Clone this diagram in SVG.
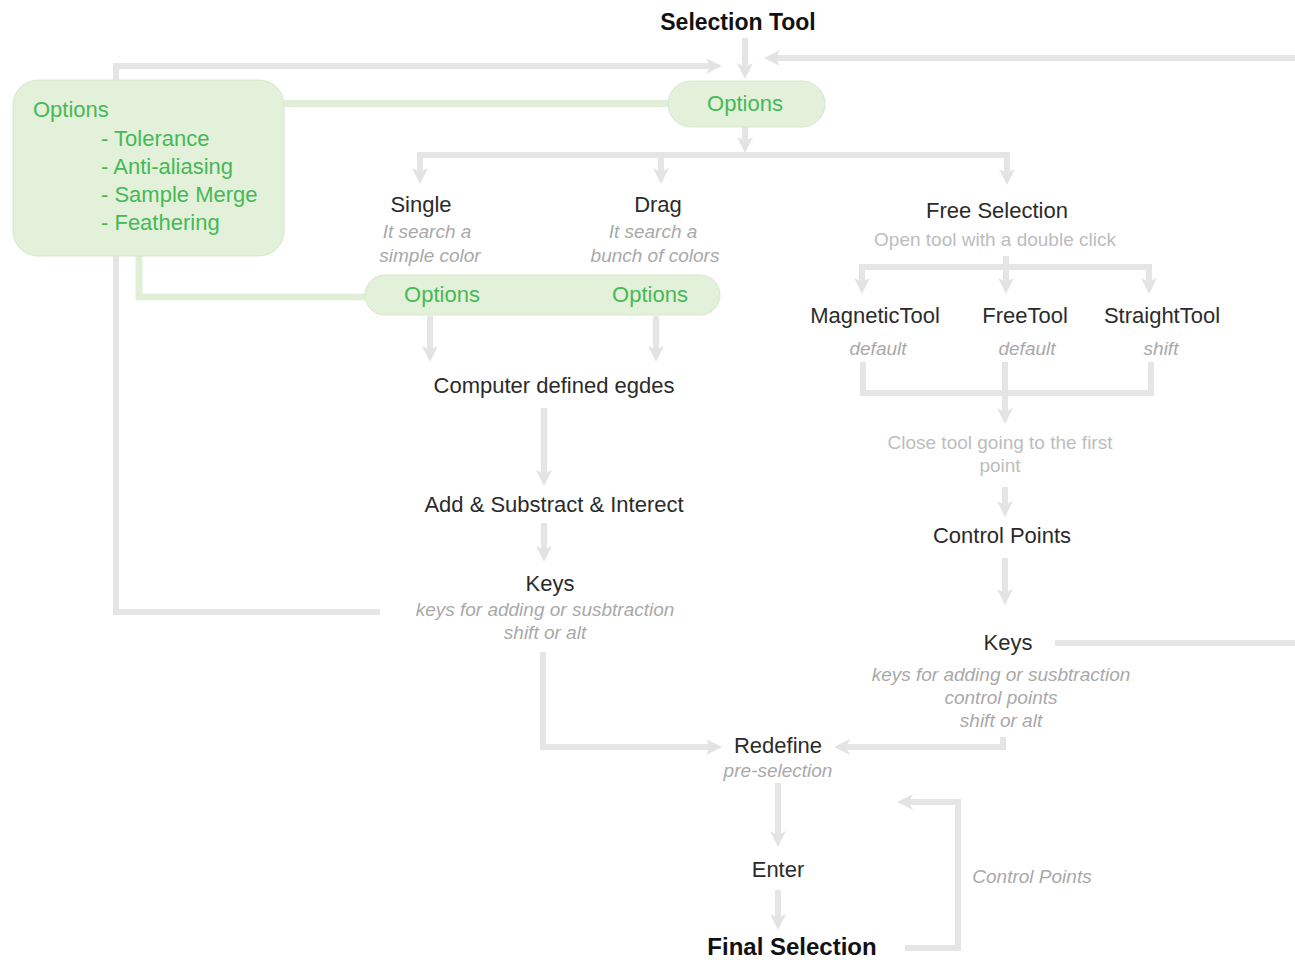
<svg xmlns="http://www.w3.org/2000/svg" width="1295" height="963" viewBox="0 0 1295 963">
<defs>
<marker id="ah" viewBox="0 0 16 16" refX="4" refY="8" markerWidth="16" markerHeight="16" markerUnits="userSpaceOnUse" orient="auto">
<path d="M0,0 L16,8 L0,16 L4,8 Z" fill="#e3e3e3"/>
</marker>
<style>
text{font-family:"Liberation Sans",Arial,sans-serif}
.c{fill:none;stroke:#e5e5e5;stroke-width:6}
.a{marker-end:url(#ah)}
.g{fill:none;stroke:#e2efd8;stroke-width:7}
.box{fill:#e3f0da;stroke:#d6e8ca;stroke-width:1}
.gt{fill:#46b956;font-size:22px}
.t{fill:#2b2b2b;font-size:22px;text-anchor:middle}
.b{fill:#111;font-size:23px;font-weight:bold;text-anchor:middle}
.i{fill:#a9a9a9;font-size:19px;font-style:italic;text-anchor:middle}
.s{fill:#bdbdbd;font-size:19px;text-anchor:middle}
</style>
</defs>
<g id="connectors">
<path class="c a" d="M745,38 V67"/>
<path class="c a" d="M380,612 H116 V66 H710"/>
<path class="c a" d="M1295,58 H776"/>
<path class="c" d="M1055,643 H1295"/>
<path class="c a" d="M745,127 V141"/>
<path class="c" d="M417,155 H1010"/>
<path class="c a" d="M420,155 V172"/>
<path class="c a" d="M661,155 V172"/>
<path class="c a" d="M1007,155 V173"/>
<path class="c" d="M1006,256 V267"/>
<path class="c" d="M859,267 H1152"/>
<path class="c a" d="M862,267 V282"/>
<path class="c a" d="M1006,267 V282"/>
<path class="c a" d="M1149,267 V282"/>
<path class="c" d="M863,362 V393 H1151 V362"/>
<path class="c" d="M1005,362 V393"/>
<path class="c a" d="M1005,393 V412"/>
<path class="c a" d="M1005,487 V505"/>
<path class="c a" d="M1005,558 V593"/>
<path class="c a" d="M1003,737 V747 H846"/>
<path class="c a" d="M430,316 V350"/>
<path class="c a" d="M656,316 V350"/>
<path class="c a" d="M544,408 V474"/>
<path class="c a" d="M544,523 V550"/>
<path class="c a" d="M543,652 V747 H710"/>
<path class="c a" d="M778,783 V835"/>
<path class="c a" d="M778,890 V918"/>
<path class="c a" d="M905,948 H958 V802 H909"/>
<path class="g" d="M283,103.5 H670"/>
<path class="g" d="M139,255 V297 H368"/>
</g>
<g id="selection-tool"><text class="b" x="738" y="30">Selection Tool</text></g>
<g id="options-box">
<rect class="box" x="13" y="80" width="271" height="176" rx="25"/>
<text class="gt" x="33" y="117">Options</text>
<text class="gt" x="101" y="146">- Tolerance</text>
<text class="gt" x="101" y="174">- Anti-aliasing</text>
<text class="gt" x="101" y="202">- Sample Merge</text>
<text class="gt" x="101" y="230">- Feathering</text>
</g>
<g id="options-top">
<rect class="box" x="668" y="81" width="157" height="46" rx="23"/>
<text class="gt" x="745" y="111" text-anchor="middle">Options</text>
</g>
<g id="single">
<text class="t" x="421" y="212">Single</text>
<text class="i" x="427" y="238">It search a</text>
<text class="i" x="430" y="262">simple color</text>
</g>
<g id="drag">
<text class="t" x="658" y="212">Drag</text>
<text class="i" x="653" y="238">It search a</text>
<text class="i" x="655" y="262">bunch of colors</text>
</g>
<g id="options-pair">
<rect class="box" x="365" y="275" width="355" height="40" rx="20"/>
<text class="gt" x="442" y="302" text-anchor="middle">Options</text>
<text class="gt" x="650" y="302" text-anchor="middle">Options</text>
</g>
<g id="free-selection">
<text class="t" x="997" y="218">Free Selection</text>
<text class="s" x="995" y="246">Open tool with a double click</text>
</g>
<g id="magnetic-tool">
<text class="t" x="875" y="323">MagneticTool</text>
<text class="i" x="878" y="355">default</text>
</g>
<g id="free-tool">
<text class="t" x="1025" y="323">FreeTool</text>
<text class="i" x="1027" y="355">default</text>
</g>
<g id="straight-tool">
<text class="t" x="1162" y="323">StraightTool</text>
<text class="i" x="1161" y="355">shift</text>
</g>
<g id="close-tool">
<text class="s" x="1000" y="449">Close tool going to the first</text>
<text class="s" x="1000" y="472">point</text>
</g>
<g id="control-points"><text class="t" x="1002" y="543">Control Points</text></g>
<g id="keys-right">
<text class="t" x="1008" y="650">Keys</text>
<text class="i" x="1001" y="681">keys for adding or susbtraction</text>
<text class="i" x="1001" y="704">control points</text>
<text class="i" x="1001" y="727">shift or alt</text>
</g>
<g id="computer-edges"><text class="t" x="554" y="393">Computer defined egdes</text></g>
<g id="add-substract"><text class="t" x="554" y="512">Add &amp; Substract &amp; Interect</text></g>
<g id="keys-left">
<text class="t" x="550" y="591">Keys</text>
<text class="i" x="545" y="616">keys for adding or susbtraction</text>
<text class="i" x="545" y="639">shift or alt</text>
</g>
<g id="redefine">
<text class="t" x="778" y="753">Redefine</text>
<text class="i" x="778" y="777">pre-selection</text>
</g>
<g id="enter"><text class="t" x="778" y="877">Enter</text></g>
<g id="final-selection"><text class="b" x="792" y="955" style="font-size:24px">Final Selection</text></g>
<g id="control-points-label"><text class="i" x="1032" y="883">Control Points</text></g>
</svg>
